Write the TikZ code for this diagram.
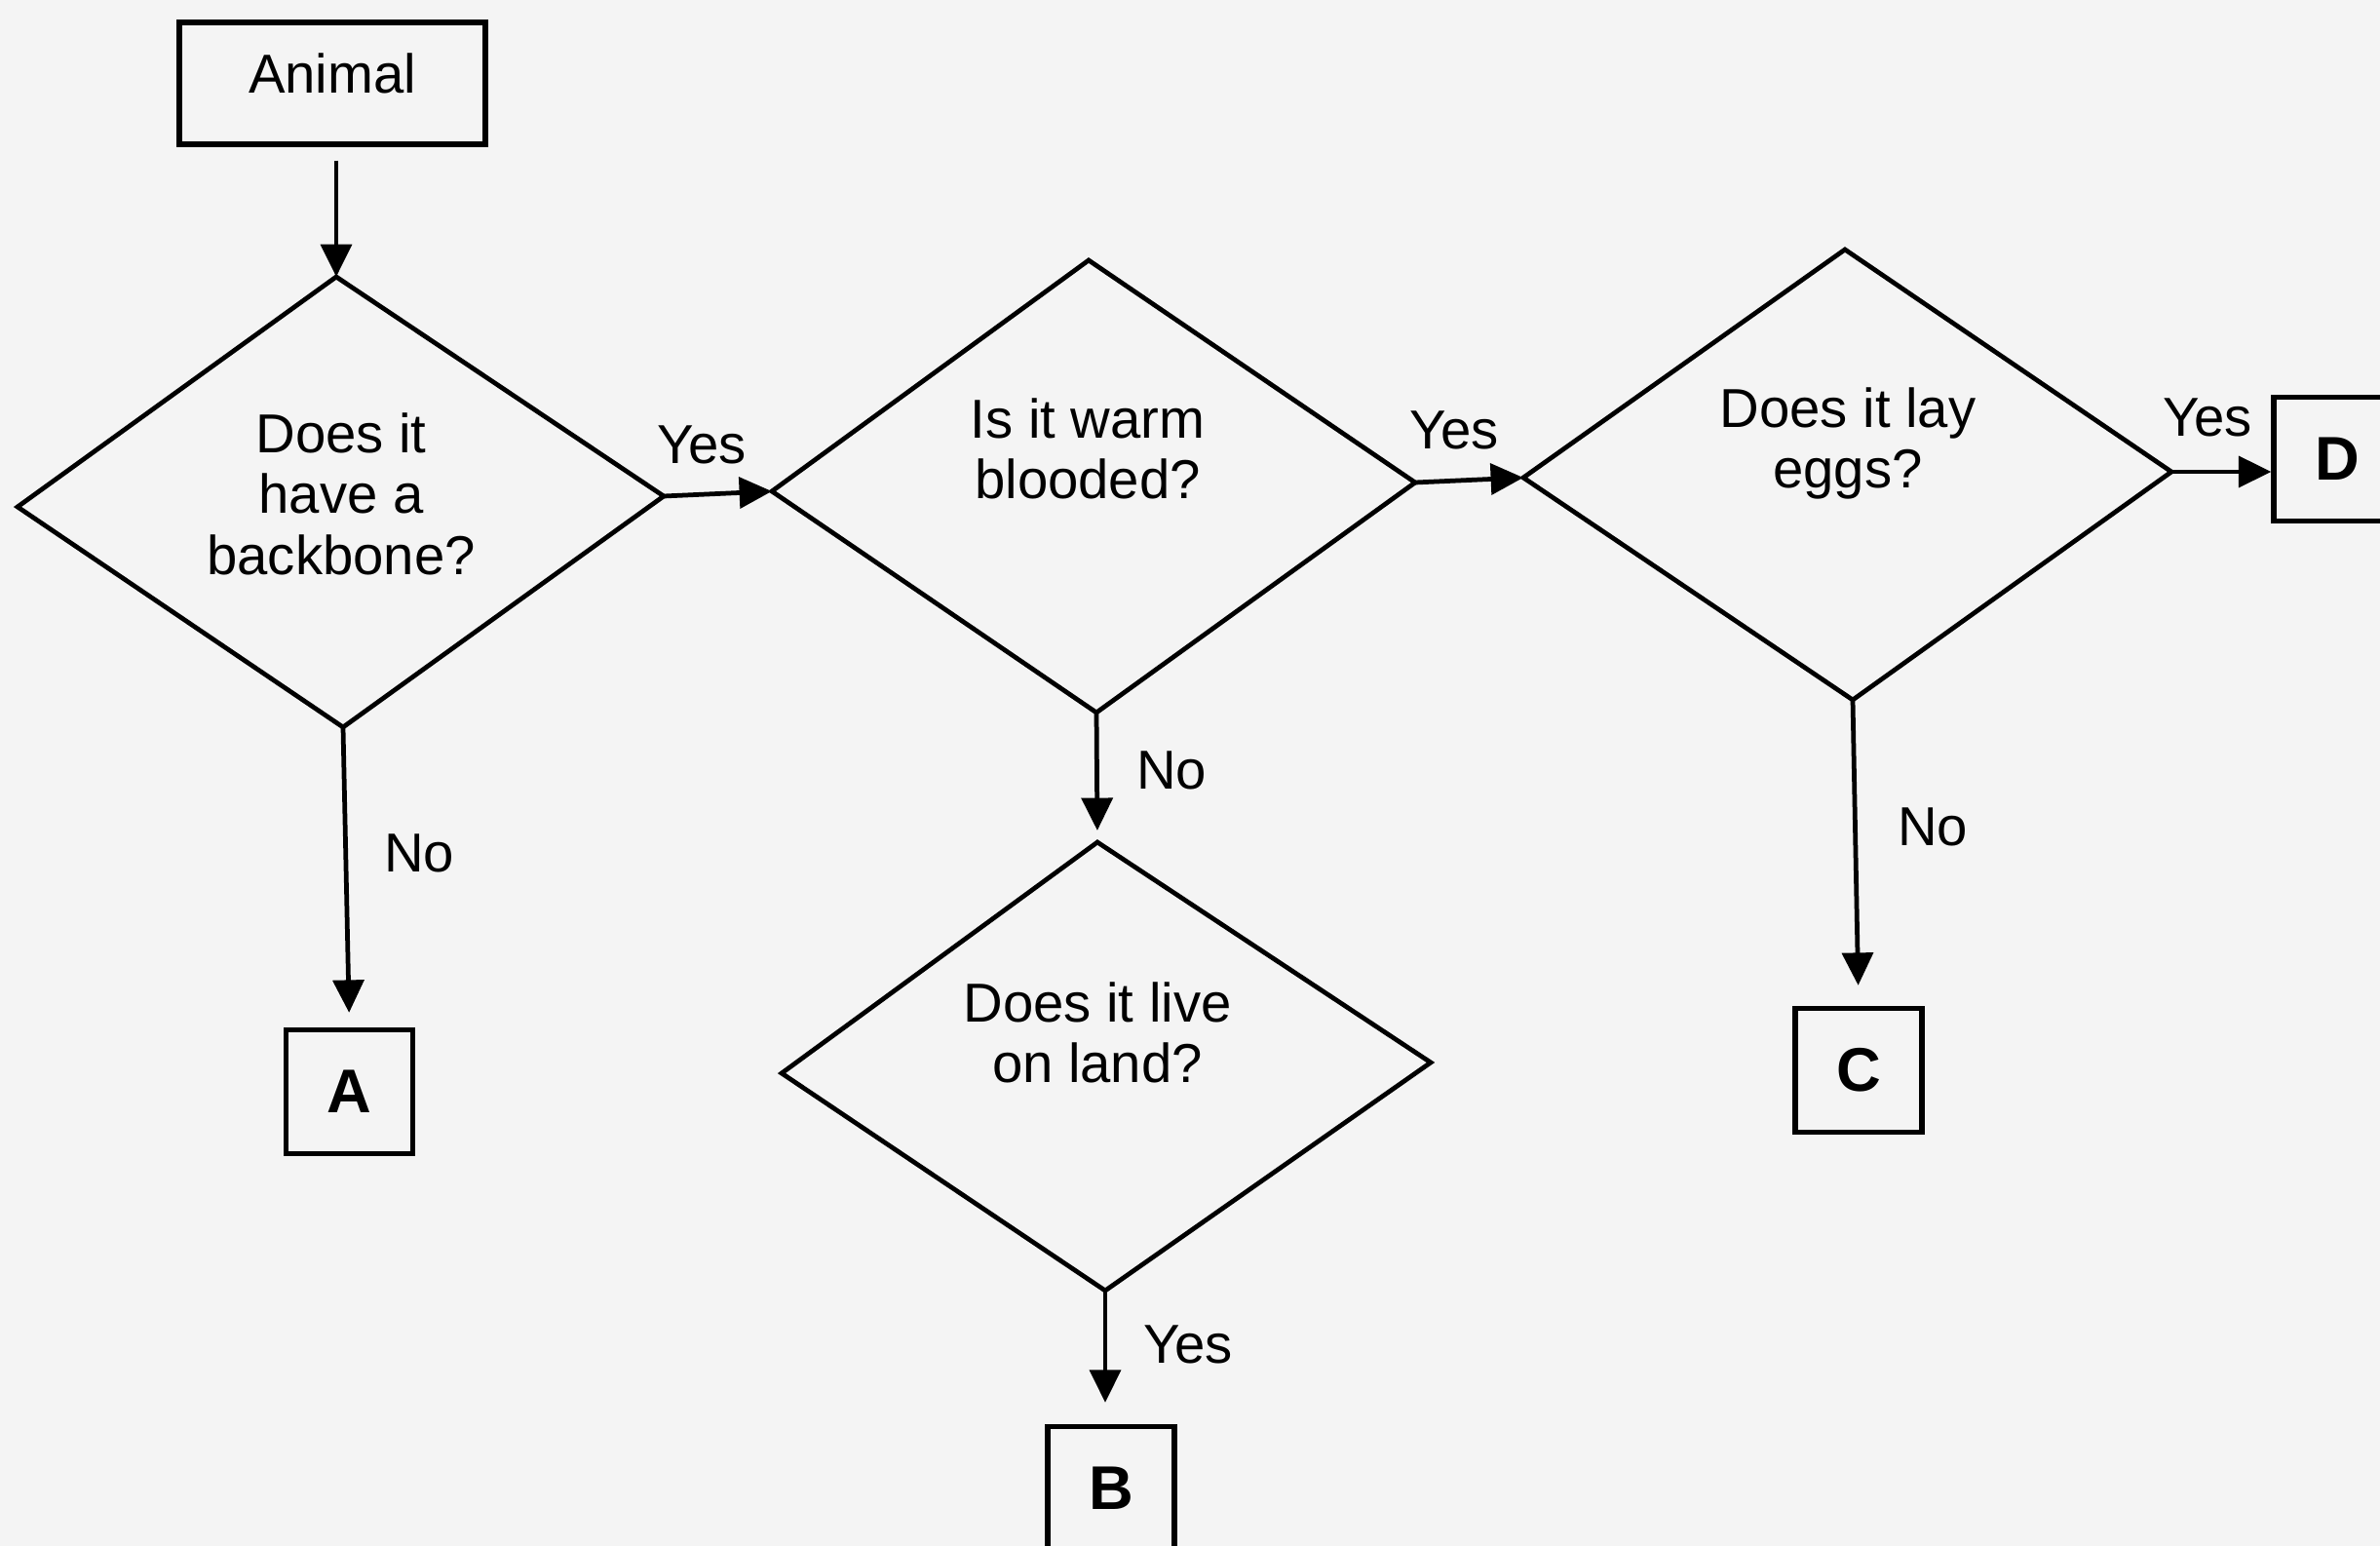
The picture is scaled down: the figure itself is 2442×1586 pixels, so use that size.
\documentclass[tikz,border=0pt]{standalone}
\usepackage{fontspec}
\setmainfont{Liberation Sans}
\usetikzlibrary{arrows.meta}
\definecolor{bgcol}{RGB}{244,244,244}
\begin{document}
\begin{tikzpicture}[x=0.01cm,y=-0.01cm,
  line width=1.35pt,
  box/.style={draw,line width=1.5pt,inner sep=0pt,minimum width=1.3cm,minimum height=1.27cm,font=\fontsize{18}{20}\selectfont\bfseries},
  qtext/.style={align=center,inner sep=0pt,anchor=north,font=\fontsize{16}{17.8}\selectfont},
  lbl/.style={inner sep=0pt,font=\fontsize{16}{18}\selectfont},
  arr/.style={-{Triangle[length=9.5pt,width=9pt]},line width=1.35pt},
  diam/.style={line width=1.35pt,line join=miter}
]
\fill[bgcol] (0,0) rectangle (2442,1586);
\useasboundingbox (0,0) rectangle (2442,1586);
\clip (0,0) rectangle (2442,1586);

% diamonds
\coordinate (d1n) at (345,284);
\coordinate (d1e) at (681,509);
\coordinate (d1s) at (352,746);
\coordinate (d1w) at (18,520);
\draw[diam] (d1n) -- (d1e) -- (d1s) -- (d1w) -- cycle;

\coordinate (d2n) at (1117,267);
\coordinate (d2e) at (1452,495);
\coordinate (d2s) at (1125,731);
\coordinate (d2w) at (792,504);
\draw[diam] (d2n) -- (d2e) -- (d2s) -- (d2w) -- cycle;

\coordinate (d3n) at (1893,256);
\coordinate (d3e) at (2228,484);
\coordinate (d3s) at (1901,718);
\coordinate (d3w) at (1563,490);
\draw[diam] (d3n) -- (d3e) -- (d3s) -- (d3w) -- cycle;

\coordinate (d4n) at (1126,864);
\coordinate (d4e) at (1468,1090);
\coordinate (d4s) at (1134,1324);
\coordinate (d4w) at (802,1101);
\draw[diam] (d4n) -- (d4e) -- (d4s) -- (d4w) -- cycle;

% question texts
\node[qtext] (q1) at (350,421) {Does it\\have a\\backbone?};
\node[qtext] (q2) at (1116,406) {Is it warm\\blooded?};
\node[qtext] (q3) at (1896,395) {Does it lay\\eggs?};
\node[qtext] (q4) at (1126,1005) {Does it live\\on land?};

% boxes
\node[box,minimum width=3.14cm,minimum height=1.25cm,font=\fontsize{16}{18}\selectfont,text depth=0.2cm] (animal) at (341,85.5) {Animal};
\node[box] (A) at (358.5,1120) {A};
\node[box] (B) at (1140,1527) {B};
\node[box] (C) at (1907,1098) {C};
\node[box] (D) at (2398,471) {D};

% connectors
\draw[arr,shorten <=0.14cm] (animal.south -| d1n) -- (d1n);
\draw[arr] (d1e) -- (d2w);
\draw[arr] (d2e) -- (d3w);
\draw[arr] (d3e) -- (d3e -| D.west);
\draw[arr,shorten >=0.15cm] (d1s) -- (A.north);
\draw[arr,shorten >=0.12cm] (d2s) -- (d4n);
\draw[arr,shorten >=0.22cm] (d4s) -- (d4s |- B.north);
\draw[arr,shorten >=0.21cm] (d3s) -- (C.north);

% labels
\node[lbl] (y1) at (720,456) {Yes};
\node[lbl] (y2) at (1492,441) {Yes};
\node[lbl] (y3) at (2265,428) {Yes};
\node[lbl] (y4) at (1219,1379) {Yes};
\node[lbl] (n1) at (430,875) {No};
\node[lbl] (n2) at (1202,790) {No};
\node[lbl] (n3) at (1983,848) {No};
\end{tikzpicture}
\end{document}
